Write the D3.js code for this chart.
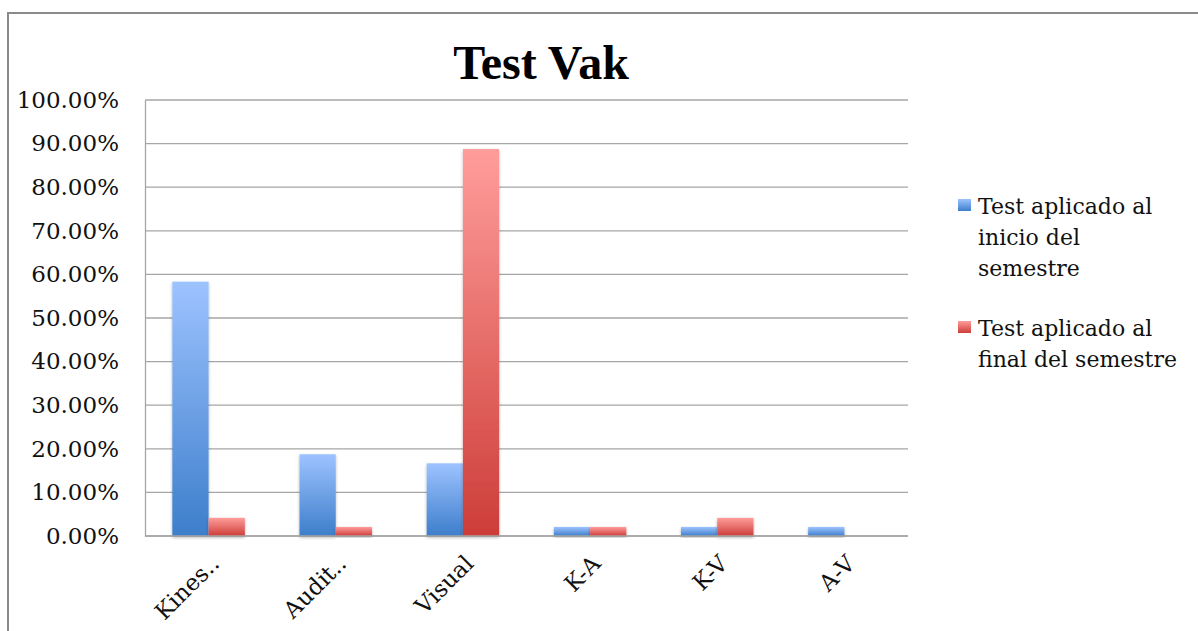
<!DOCTYPE html>
<html>
<head>
<meta charset="utf-8">
<script src="https://cdn.jsdelivr.net/npm/d3@7"></script>
<style>
  html, body { margin: 0; padding: 0; background: #fff; }
  svg { display: block; }
</style>
</head>
<body>
<div id="chart"></div>
<script>
(function () {
  'use strict';

  // data
  const categories = ['Kines..', 'Audit..', 'Visual', 'K-A', 'K-V', 'A-V'];
  const inicio     = [0.5833, 0.1875, 0.1667, 0.0208, 0.0208, 0.0208];
  const final      = [0.0417, 0.0208, 0.8875, 0.0208, 0.0417, 0];
  const yTicks     = [0, 0.1, 0.2, 0.3, 0.4, 0.5, 0.6, 0.7, 0.8, 0.9, 1];
  const seriesKeys = ['inicio', 'final'];
  const legendLines = [
    ['Test aplicado al', 'inicio del', 'semestre'],
    ['Test aplicado al', 'final del semestre']
  ];

  const W = 1198, H = 631;
  const PLOT = { left: 145, right: 908, top: 100, bottom: 536 };
  const SERIF = "'DejaVu Serif', 'Liberation Serif', serif";

  const rows = categories.map((c, i) => ({ cat: c, inicio: inicio[i], final: final[i] }));

  const svg = d3.select('#chart').append('svg')
    .attr('width', W).attr('height', H);

  const defs = svg.append('defs');

  function grad(id, top, bottom) {
    const g = defs.append('linearGradient')
      .attr('id', id).attr('x1', 0).attr('y1', 0).attr('x2', 0).attr('y2', 1);
    g.append('stop').attr('offset', '0%').attr('stop-color', top);
    g.append('stop').attr('offset', '100%').attr('stop-color', bottom);
  }
  grad('g-inicio', '#9dc3ff', '#3d7ecb');
  grad('g-final', '#ff9d9b', '#cd3d38');

  const shadow = defs.append('filter').attr('id', 'shadow')
    .attr('x', '-20%').attr('y', '-20%').attr('width', '140%').attr('height', '140%');
  shadow.append('feDropShadow')
    .attr('dx', 0).attr('dy', 1.5).attr('stdDeviation', 1.5)
    .attr('flood-color', '#000').attr('flood-opacity', 0.3);

  // outer frame (only top and left edges are visible)
  svg.append('path')
    .attr('d', `M8,${H} L8,13 L${W},13`)
    .attr('fill', 'none').attr('stroke', '#8a8a8a').attr('stroke-width', 2);

  // title
  svg.append('text')
    .attr('x', 541).attr('y', 79)
    .attr('text-anchor', 'middle')
    .attr('font-family', "'Liberation Serif', serif")
    .attr('font-weight', 'bold')
    .attr('font-size', 48)
    .attr('fill', '#000')
    .text('Test Vak');

  const x0 = d3.scaleBand()
    .domain(categories)
    .range([PLOT.left, PLOT.right])
    .paddingInner(0.43)
    .paddingOuter(0.215);

  const x1 = d3.scaleBand()
    .domain(seriesKeys)
    .range([0, x0.bandwidth()]);

  const y = d3.scaleLinear().domain([0, 1]).range([PLOT.bottom, PLOT.top]);

  // gridlines
  svg.append('g')
    .selectAll('line')
    .data(yTicks)
    .join('line')
    .attr('x1', PLOT.left).attr('x2', PLOT.right)
    .attr('y1', d => y(d)).attr('y2', d => y(d))
    .attr('stroke', '#a6a6a6').attr('stroke-width', 1.3);

  // y axis
  const yAxis = svg.append('g')
    .attr('transform', `translate(${PLOT.left},0)`)
    .call(d3.axisLeft(y).tickValues(yTicks).tickSize(0).tickPadding(26)
      .tickFormat(d => (d * 100).toFixed(2) + '%'));
  yAxis.select('.domain').attr('stroke', '#a6a6a6').attr('stroke-width', 1.3);
  yAxis.selectAll('text')
    .attr('font-family', SERIF).attr('font-size', 23).attr('fill', '#111');

  // bars
  const groups = svg.append('g')
    .selectAll('g')
    .data(rows)
    .join('g')
    .attr('transform', d => `translate(${x0(d.cat)},0)`);

  groups.selectAll('rect')
    .data(d => seriesKeys.map(k => ({ key: k, value: d[k] })).filter(v => v.value > 0))
    .join('rect')
    .attr('x', d => x1(d.key))
    .attr('width', x1.bandwidth())
    .attr('y', d => y(d.value))
    .attr('height', d => y(0) - y(d.value))
    .attr('fill', d => `url(#g-${d.key})`)
    .attr('filter', 'url(#shadow)');

  // x axis line
  svg.append('line')
    .attr('x1', PLOT.left).attr('x2', PLOT.right)
    .attr('y1', y(0)).attr('y2', y(0))
    .attr('stroke', '#a6a6a6').attr('stroke-width', 1.3);

  // category labels, rotated
  svg.append('g')
    .selectAll('text')
    .data(categories)
    .join('text')
    .attr('transform', d => `translate(${x0(d) + x0.bandwidth() / 2 + 12},565) rotate(-45)`)
    .attr('text-anchor', 'end')
    .attr('font-family', SERIF).attr('font-size', 23).attr('fill', '#111')
    .text(d => d);

  // legend
  const legend = svg.append('g').attr('transform', 'translate(958,0)');
  const legendTop = [199, 321];
  const legendColor = ['url(#g-inicio)', 'url(#g-final)'];

  legendLines.forEach((lines, i) => {
    legend.append('rect')
      .attr('x', 0).attr('y', legendTop[i])
      .attr('width', 13).attr('height', 12)
      .attr('fill', legendColor[i]);
    const t = legend.append('text')
      .attr('font-family', SERIF).attr('font-size', 22).attr('fill', '#111');
    lines.forEach((line, j) => {
      t.append('tspan')
        .attr('x', 20)
        .attr('y', legendTop[i] + 15 + j * 31)
        .text(line);
    });
  });
})();
</script>
</body>
</html>
